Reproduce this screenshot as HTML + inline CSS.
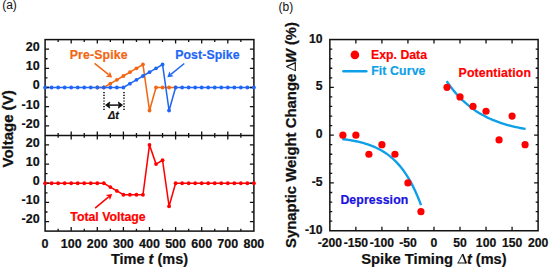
<!DOCTYPE html>
<html><head><meta charset="utf-8"><style>
html,body{margin:0;padding:0;background:#fff;}
body{width:550px;height:268px;overflow:hidden;position:relative;}
svg{position:absolute;left:0;top:0;font-family:"Liberation Sans",sans-serif;}
</style></head><body>
<svg width="550" height="268" viewBox="0 0 550 268">
<rect x="45.1" y="39.6" width="208.80" height="191.50" fill="none" stroke="#111" stroke-width="1.5"/>
<line x1="45.1" y1="135.4" x2="253.9" y2="135.4" stroke="#111" stroke-width="1.5"/>
<rect x="329.85" y="39.55" width="208.25" height="191.20" fill="none" stroke="#111" stroke-width="1.5"/>
<path d="M97.30 87.50L103.83 87.50L110.35 83.67L116.88 79.84L123.40 76.00L129.93 72.17L136.45 68.34L142.97 64.51L149.50 110.49L156.03 87.50L162.55 87.50L169.07 87.50L175.60 87.50" stroke="#F26713" stroke-width="1.55" fill="none" stroke-linejoin="miter"/>
<path d="M45.10 87.50L51.62 87.50L58.15 87.50L64.67 87.50L71.20 87.50L77.72 87.50L84.25 87.50L90.78 87.50L97.30 87.50L103.83 87.50L110.35 87.50L116.88 87.50L123.40 87.50L129.93 83.67L136.45 79.84L142.97 76.00L149.50 72.17L156.03 68.34L162.55 64.51L169.07 110.49L175.60 87.50L182.12 87.50L188.65 87.50L195.17 87.50L201.70 87.50L208.22 87.50L214.75 87.50L221.28 87.50L227.80 87.50L234.32 87.50L240.85 87.50L247.38 87.50L253.90 87.50" stroke="#1F66F5" stroke-width="1.55" fill="none" stroke-linejoin="miter"/>
<path d="M45.10 183.25L51.62 183.25L58.15 183.25L64.67 183.25L71.20 183.25L77.72 183.25L84.25 183.25L90.78 183.25L97.30 183.25L103.83 183.25L110.35 187.08L116.88 190.91L123.40 194.75L129.93 194.75L136.45 194.75L142.97 194.75L149.50 144.93L156.03 164.09L162.55 160.26L169.07 206.24L175.60 183.25L182.12 183.25L188.65 183.25L195.17 183.25L201.70 183.25L208.22 183.25L214.75 183.25L221.28 183.25L227.80 183.25L234.32 183.25L240.85 183.25L247.38 183.25L253.90 183.25" stroke="#FF0000" stroke-width="1.55" fill="none" stroke-linejoin="miter"/>
<path d="M58.15 39.60L58.15 42.00M58.15 135.40L58.15 133.00M58.15 135.40L58.15 137.80M58.15 231.10L58.15 228.70M71.20 39.60L71.20 43.60M71.20 135.40L71.20 131.40M71.20 135.40L71.20 139.40M71.20 231.10L71.20 227.10M84.25 39.60L84.25 42.00M84.25 135.40L84.25 133.00M84.25 135.40L84.25 137.80M84.25 231.10L84.25 228.70M97.30 39.60L97.30 43.60M97.30 135.40L97.30 131.40M97.30 135.40L97.30 139.40M97.30 231.10L97.30 227.10M110.35 39.60L110.35 42.00M110.35 135.40L110.35 133.00M110.35 135.40L110.35 137.80M110.35 231.10L110.35 228.70M123.40 39.60L123.40 43.60M123.40 135.40L123.40 131.40M123.40 135.40L123.40 139.40M123.40 231.10L123.40 227.10M136.45 39.60L136.45 42.00M136.45 135.40L136.45 133.00M136.45 135.40L136.45 137.80M136.45 231.10L136.45 228.70M149.50 39.60L149.50 43.60M149.50 135.40L149.50 131.40M149.50 135.40L149.50 139.40M149.50 231.10L149.50 227.10M162.55 39.60L162.55 42.00M162.55 135.40L162.55 133.00M162.55 135.40L162.55 137.80M162.55 231.10L162.55 228.70M175.60 39.60L175.60 43.60M175.60 135.40L175.60 131.40M175.60 135.40L175.60 139.40M175.60 231.10L175.60 227.10M188.65 39.60L188.65 42.00M188.65 135.40L188.65 133.00M188.65 135.40L188.65 137.80M188.65 231.10L188.65 228.70M201.70 39.60L201.70 43.60M201.70 135.40L201.70 131.40M201.70 135.40L201.70 139.40M201.70 231.10L201.70 227.10M214.75 39.60L214.75 42.00M214.75 135.40L214.75 133.00M214.75 135.40L214.75 137.80M214.75 231.10L214.75 228.70M227.80 39.60L227.80 43.60M227.80 135.40L227.80 131.40M227.80 135.40L227.80 139.40M227.80 231.10L227.80 227.10M240.85 39.60L240.85 42.00M240.85 135.40L240.85 133.00M240.85 135.40L240.85 137.80M240.85 231.10L240.85 228.70M45.10 125.82L49.10 125.82M253.90 125.82L249.90 125.82M45.10 221.57L49.10 221.57M253.90 221.57L249.90 221.57M45.10 116.24L47.50 116.24M253.90 116.24L251.50 116.24M45.10 211.99L47.50 211.99M253.90 211.99L251.50 211.99M45.10 106.66L49.10 106.66M253.90 106.66L249.90 106.66M45.10 202.41L49.10 202.41M253.90 202.41L249.90 202.41M45.10 97.08L47.50 97.08M253.90 97.08L251.50 97.08M45.10 192.83L47.50 192.83M253.90 192.83L251.50 192.83M45.10 87.50L49.10 87.50M253.90 87.50L249.90 87.50M45.10 183.25L49.10 183.25M253.90 183.25L249.90 183.25M45.10 77.92L47.50 77.92M253.90 77.92L251.50 77.92M45.10 173.67L47.50 173.67M253.90 173.67L251.50 173.67M45.10 68.34L49.10 68.34M253.90 68.34L249.90 68.34M45.10 164.09L49.10 164.09M253.90 164.09L249.90 164.09M45.10 58.76L47.50 58.76M253.90 58.76L251.50 58.76M45.10 154.51L47.50 154.51M253.90 154.51L251.50 154.51M45.10 49.18L49.10 49.18M253.90 49.18L249.90 49.18M45.10 144.93L49.10 144.93M253.90 144.93L249.90 144.93M355.88 39.55L355.88 43.55M355.88 230.75L355.88 226.75M381.91 39.55L381.91 43.55M381.91 230.75L381.91 226.75M407.94 39.55L407.94 43.55M407.94 230.75L407.94 226.75M433.98 39.55L433.98 43.55M433.98 230.75L433.98 226.75M460.01 39.55L460.01 43.55M460.01 230.75L460.01 226.75M486.04 39.55L486.04 43.55M486.04 230.75L486.04 226.75M512.07 39.55L512.07 43.55M512.07 230.75L512.07 226.75M329.85 221.19L332.25 221.19M538.10 221.19L535.70 221.19M329.85 211.63L332.25 211.63M538.10 211.63L535.70 211.63M329.85 202.07L332.25 202.07M538.10 202.07L535.70 202.07M329.85 192.51L332.25 192.51M538.10 192.51L535.70 192.51M329.85 182.95L333.85 182.95M538.10 182.95L534.10 182.95M329.85 173.39L332.25 173.39M538.10 173.39L535.70 173.39M329.85 163.83L332.25 163.83M538.10 163.83L535.70 163.83M329.85 154.27L332.25 154.27M538.10 154.27L535.70 154.27M329.85 144.71L332.25 144.71M538.10 144.71L535.70 144.71M329.85 135.15L333.85 135.15M538.10 135.15L534.10 135.15M329.85 125.59L332.25 125.59M538.10 125.59L535.70 125.59M329.85 116.03L332.25 116.03M538.10 116.03L535.70 116.03M329.85 106.47L332.25 106.47M538.10 106.47L535.70 106.47M329.85 96.91L332.25 96.91M538.10 96.91L535.70 96.91M329.85 87.35L333.85 87.35M538.10 87.35L534.10 87.35M329.85 77.79L332.25 77.79M538.10 77.79L535.70 77.79M329.85 68.23L332.25 68.23M538.10 68.23L535.70 68.23M329.85 58.67L332.25 58.67M538.10 58.67L535.70 58.67M329.85 49.11L332.25 49.11M538.10 49.11L535.70 49.11" stroke="#111" stroke-width="1.3" fill="none"/>
<circle cx="97.30" cy="87.50" r="1.9" fill="#F26713"/><circle cx="103.83" cy="87.50" r="1.9" fill="#F26713"/><circle cx="110.35" cy="83.67" r="1.9" fill="#F26713"/><circle cx="116.88" cy="79.84" r="1.9" fill="#F26713"/><circle cx="123.40" cy="76.00" r="1.9" fill="#F26713"/><circle cx="129.93" cy="72.17" r="1.9" fill="#F26713"/><circle cx="136.45" cy="68.34" r="1.9" fill="#F26713"/><circle cx="142.97" cy="64.51" r="1.9" fill="#F26713"/><circle cx="149.50" cy="110.49" r="1.9" fill="#F26713"/><circle cx="156.03" cy="87.50" r="1.9" fill="#F26713"/><circle cx="162.55" cy="87.50" r="1.9" fill="#F26713"/><circle cx="169.07" cy="87.50" r="1.9" fill="#F26713"/><circle cx="175.60" cy="87.50" r="1.9" fill="#F26713"/>
<circle cx="45.10" cy="87.50" r="1.9" fill="#1F66F5"/><circle cx="51.62" cy="87.50" r="1.9" fill="#1F66F5"/><circle cx="58.15" cy="87.50" r="1.9" fill="#1F66F5"/><circle cx="64.67" cy="87.50" r="1.9" fill="#1F66F5"/><circle cx="71.20" cy="87.50" r="1.9" fill="#1F66F5"/><circle cx="77.72" cy="87.50" r="1.9" fill="#1F66F5"/><circle cx="84.25" cy="87.50" r="1.9" fill="#1F66F5"/><circle cx="90.78" cy="87.50" r="1.9" fill="#1F66F5"/><circle cx="97.30" cy="87.50" r="1.9" fill="#1F66F5"/><circle cx="103.83" cy="87.50" r="1.9" fill="#1F66F5"/><circle cx="110.35" cy="87.50" r="1.9" fill="#1F66F5"/><circle cx="116.88" cy="87.50" r="1.9" fill="#1F66F5"/><circle cx="123.40" cy="87.50" r="1.9" fill="#1F66F5"/><circle cx="129.93" cy="83.67" r="1.9" fill="#1F66F5"/><circle cx="136.45" cy="79.84" r="1.9" fill="#1F66F5"/><circle cx="142.97" cy="76.00" r="1.9" fill="#1F66F5"/><circle cx="149.50" cy="72.17" r="1.9" fill="#1F66F5"/><circle cx="156.03" cy="68.34" r="1.9" fill="#1F66F5"/><circle cx="162.55" cy="64.51" r="1.9" fill="#1F66F5"/><circle cx="169.07" cy="110.49" r="1.9" fill="#1F66F5"/><circle cx="175.60" cy="87.50" r="1.9" fill="#1F66F5"/><circle cx="182.12" cy="87.50" r="1.9" fill="#1F66F5"/><circle cx="188.65" cy="87.50" r="1.9" fill="#1F66F5"/><circle cx="195.17" cy="87.50" r="1.9" fill="#1F66F5"/><circle cx="201.70" cy="87.50" r="1.9" fill="#1F66F5"/><circle cx="208.22" cy="87.50" r="1.9" fill="#1F66F5"/><circle cx="214.75" cy="87.50" r="1.9" fill="#1F66F5"/><circle cx="221.28" cy="87.50" r="1.9" fill="#1F66F5"/><circle cx="227.80" cy="87.50" r="1.9" fill="#1F66F5"/><circle cx="234.32" cy="87.50" r="1.9" fill="#1F66F5"/><circle cx="240.85" cy="87.50" r="1.9" fill="#1F66F5"/><circle cx="247.38" cy="87.50" r="1.9" fill="#1F66F5"/><circle cx="253.90" cy="87.50" r="1.9" fill="#1F66F5"/>
<circle cx="45.10" cy="183.25" r="1.9" fill="#FF0000"/><circle cx="51.62" cy="183.25" r="1.9" fill="#FF0000"/><circle cx="58.15" cy="183.25" r="1.9" fill="#FF0000"/><circle cx="64.67" cy="183.25" r="1.9" fill="#FF0000"/><circle cx="71.20" cy="183.25" r="1.9" fill="#FF0000"/><circle cx="77.72" cy="183.25" r="1.9" fill="#FF0000"/><circle cx="84.25" cy="183.25" r="1.9" fill="#FF0000"/><circle cx="90.78" cy="183.25" r="1.9" fill="#FF0000"/><circle cx="97.30" cy="183.25" r="1.9" fill="#FF0000"/><circle cx="103.83" cy="183.25" r="1.9" fill="#FF0000"/><circle cx="110.35" cy="187.08" r="1.9" fill="#FF0000"/><circle cx="116.88" cy="190.91" r="1.9" fill="#FF0000"/><circle cx="123.40" cy="194.75" r="1.9" fill="#FF0000"/><circle cx="129.93" cy="194.75" r="1.9" fill="#FF0000"/><circle cx="136.45" cy="194.75" r="1.9" fill="#FF0000"/><circle cx="142.97" cy="194.75" r="1.9" fill="#FF0000"/><circle cx="149.50" cy="144.93" r="1.9" fill="#FF0000"/><circle cx="156.03" cy="164.09" r="1.9" fill="#FF0000"/><circle cx="162.55" cy="160.26" r="1.9" fill="#FF0000"/><circle cx="169.07" cy="206.24" r="1.9" fill="#FF0000"/><circle cx="175.60" cy="183.25" r="1.9" fill="#FF0000"/><circle cx="182.12" cy="183.25" r="1.9" fill="#FF0000"/><circle cx="188.65" cy="183.25" r="1.9" fill="#FF0000"/><circle cx="195.17" cy="183.25" r="1.9" fill="#FF0000"/><circle cx="201.70" cy="183.25" r="1.9" fill="#FF0000"/><circle cx="208.22" cy="183.25" r="1.9" fill="#FF0000"/><circle cx="214.75" cy="183.25" r="1.9" fill="#FF0000"/><circle cx="221.28" cy="183.25" r="1.9" fill="#FF0000"/><circle cx="227.80" cy="183.25" r="1.9" fill="#FF0000"/><circle cx="234.32" cy="183.25" r="1.9" fill="#FF0000"/><circle cx="240.85" cy="183.25" r="1.9" fill="#FF0000"/><circle cx="247.38" cy="183.25" r="1.9" fill="#FF0000"/><circle cx="253.90" cy="183.25" r="1.9" fill="#FF0000"/>
<line x1="104.00" y1="92" x2="104.00" y2="110.5" stroke="#111" stroke-width="1.6" stroke-dasharray="1.2 1.6"/>
<line x1="124.00" y1="92" x2="124.00" y2="110.5" stroke="#111" stroke-width="1.6" stroke-dasharray="1.2 1.6"/>
<line x1="107.6" y1="105.1" x2="120.5" y2="105.1" stroke="#111" stroke-width="1.5"/>
<path d="M105.6 105.1L109.8 102.1L108.8 105.1L109.8 108.1Z M122.5 105.1L118.3 102.1L119.3 105.1L118.3 108.1Z" fill="#111" stroke="#111" stroke-width="0.9" stroke-linejoin="round"/>
<line x1="94.60" y1="63.30" x2="108.63" y2="74.70" stroke="#F26713" stroke-width="1.5"/>
<path d="M112.20 77.60L105.77 76.63L108.79 74.83L109.93 71.51Z" fill="#F26713"/>
<line x1="184.30" y1="63.50" x2="170.87" y2="74.40" stroke="#1F66F5" stroke-width="1.5"/>
<path d="M167.30 77.30L169.57 71.21L170.72 74.53L173.73 76.33Z" fill="#1F66F5"/>
<line x1="95.10" y1="208.10" x2="108.65" y2="196.93" stroke="#FF0000" stroke-width="1.5"/>
<path d="M112.20 194.00L109.98 200.11L108.81 196.80L105.78 195.02Z" fill="#FF0000"/>
<path d="M342.19 139.01L344.16 139.26L346.13 139.53L348.10 139.83L350.07 140.14L352.04 140.48L354.01 140.85L355.98 141.25L357.95 141.68L359.92 142.14L361.89 142.65L363.87 143.19L365.84 143.78L367.81 144.41L369.78 145.10L371.75 145.84L373.72 146.64L375.69 147.51L377.66 148.44L379.63 149.45L381.60 150.55L383.57 151.73L385.54 153.01L387.51 154.39L389.48 155.88L391.45 157.49L393.42 159.24L395.39 161.12L397.36 163.16L399.34 165.36L401.31 167.74L403.28 170.31L405.25 173.09L407.22 176.09L409.19 179.33L411.16 182.84L413.13 186.63L415.10 190.73L417.07 195.16L419.04 199.95L421.01 205.13" stroke="#0E9FE9" stroke-width="2.35" fill="none" stroke-linecap="butt"/>
<path d="M446.63 81.10L448.60 83.95L450.58 86.65L452.55 89.21L454.52 91.63L456.50 93.93L458.47 96.10L460.45 98.16L462.42 100.11L464.40 101.96L466.37 103.71L468.35 105.37L470.32 106.94L472.29 108.43L474.27 109.84L476.24 111.17L478.22 112.43L480.19 113.63L482.17 114.77L484.14 115.84L486.12 116.86L488.09 117.83L490.06 118.74L492.04 119.60L494.01 120.42L495.99 121.20L497.96 121.94L499.94 122.63L501.91 123.29L503.89 123.92L505.86 124.51L507.83 125.07L509.81 125.60L511.78 126.11L513.76 126.58L515.73 127.04L517.71 127.46L519.68 127.87L521.66 128.25L523.63 128.62L525.61 128.96" stroke="#0E9FE9" stroke-width="2.35" fill="none" stroke-linecap="butt"/>
<circle cx="342.87" cy="135.15" r="3.6" fill="#FF0000"/><circle cx="355.88" cy="135.15" r="3.6" fill="#FF0000"/><circle cx="368.90" cy="154.27" r="3.6" fill="#FF0000"/><circle cx="381.91" cy="144.71" r="3.6" fill="#FF0000"/><circle cx="394.93" cy="154.27" r="3.6" fill="#FF0000"/><circle cx="407.94" cy="182.95" r="3.6" fill="#FF0000"/><circle cx="420.96" cy="211.63" r="3.6" fill="#FF0000"/><circle cx="446.99" cy="87.35" r="3.6" fill="#FF0000"/><circle cx="460.01" cy="96.91" r="3.6" fill="#FF0000"/><circle cx="473.02" cy="106.47" r="3.6" fill="#FF0000"/><circle cx="486.04" cy="111.25" r="3.6" fill="#FF0000"/><circle cx="499.05" cy="139.93" r="3.6" fill="#FF0000"/><circle cx="512.07" cy="116.03" r="3.6" fill="#FF0000"/><circle cx="525.08" cy="144.71" r="3.6" fill="#FF0000"/>
<circle cx="354.9" cy="54.9" r="4.3" fill="#FF0000"/>
<line x1="343.5" y1="71.3" x2="366.3" y2="71.3" stroke="#0E9FE9" stroke-width="2.6" stroke-linecap="round"/>
<text x="39.60" y="51.08" font-size="12.5" fill="#111" stroke="#111" stroke-width="0.2" text-anchor="end" font-weight="bold" >20</text>
<text x="39.60" y="146.83" font-size="12.5" fill="#111" stroke="#111" stroke-width="0.2" text-anchor="end" font-weight="bold" >20</text>
<text x="39.60" y="70.24" font-size="12.5" fill="#111" stroke="#111" stroke-width="0.2" text-anchor="end" font-weight="bold" >10</text>
<text x="39.60" y="165.99" font-size="12.5" fill="#111" stroke="#111" stroke-width="0.2" text-anchor="end" font-weight="bold" >10</text>
<text x="39.60" y="89.40" font-size="12.5" fill="#111" stroke="#111" stroke-width="0.2" text-anchor="end" font-weight="bold" >0</text>
<text x="39.60" y="185.15" font-size="12.5" fill="#111" stroke="#111" stroke-width="0.2" text-anchor="end" font-weight="bold" >0</text>
<text x="39.60" y="108.56" font-size="12.5" fill="#111" stroke="#111" stroke-width="0.2" text-anchor="end" font-weight="bold" >-10</text>
<text x="39.60" y="204.31" font-size="12.5" fill="#111" stroke="#111" stroke-width="0.2" text-anchor="end" font-weight="bold" >-10</text>
<text x="39.60" y="127.72" font-size="12.5" fill="#111" stroke="#111" stroke-width="0.2" text-anchor="end" font-weight="bold" >-20</text>
<text x="39.60" y="223.47" font-size="12.5" fill="#111" stroke="#111" stroke-width="0.2" text-anchor="end" font-weight="bold" >-20</text>
<text x="45.10" y="247.80" font-size="12.5" fill="#111" stroke="#111" stroke-width="0.2" text-anchor="middle" font-weight="bold" >0</text>
<text x="71.20" y="247.80" font-size="12.5" fill="#111" stroke="#111" stroke-width="0.2" text-anchor="middle" font-weight="bold" >100</text>
<text x="97.30" y="247.80" font-size="12.5" fill="#111" stroke="#111" stroke-width="0.2" text-anchor="middle" font-weight="bold" >200</text>
<text x="123.40" y="247.80" font-size="12.5" fill="#111" stroke="#111" stroke-width="0.2" text-anchor="middle" font-weight="bold" >300</text>
<text x="149.50" y="247.80" font-size="12.5" fill="#111" stroke="#111" stroke-width="0.2" text-anchor="middle" font-weight="bold" >400</text>
<text x="175.60" y="247.80" font-size="12.5" fill="#111" stroke="#111" stroke-width="0.2" text-anchor="middle" font-weight="bold" >500</text>
<text x="201.70" y="247.80" font-size="12.5" fill="#111" stroke="#111" stroke-width="0.2" text-anchor="middle" font-weight="bold" >600</text>
<text x="227.80" y="247.80" font-size="12.5" fill="#111" stroke="#111" stroke-width="0.2" text-anchor="middle" font-weight="bold" >700</text>
<text x="253.90" y="247.80" font-size="12.5" fill="#111" stroke="#111" stroke-width="0.2" text-anchor="middle" font-weight="bold" >800</text>
<text x="322.60" y="42.55" font-size="12.2" fill="#111" stroke="#111" stroke-width="0.2" text-anchor="end" font-weight="bold" >10</text>
<text x="322.60" y="90.35" font-size="12.2" fill="#111" stroke="#111" stroke-width="0.2" text-anchor="end" font-weight="bold" >5</text>
<text x="322.60" y="138.15" font-size="12.2" fill="#111" stroke="#111" stroke-width="0.2" text-anchor="end" font-weight="bold" >0</text>
<text x="322.60" y="185.95" font-size="12.2" fill="#111" stroke="#111" stroke-width="0.2" text-anchor="end" font-weight="bold" >-5</text>
<text x="322.60" y="233.75" font-size="12.2" fill="#111" stroke="#111" stroke-width="0.2" text-anchor="end" font-weight="bold" >-10</text>
<text x="329.85" y="247.00" font-size="12.2" fill="#111" stroke="#111" stroke-width="0.2" text-anchor="middle" font-weight="bold" >-200</text>
<text x="355.88" y="247.00" font-size="12.2" fill="#111" stroke="#111" stroke-width="0.2" text-anchor="middle" font-weight="bold" >-150</text>
<text x="381.91" y="247.00" font-size="12.2" fill="#111" stroke="#111" stroke-width="0.2" text-anchor="middle" font-weight="bold" >-100</text>
<text x="407.94" y="247.00" font-size="12.2" fill="#111" stroke="#111" stroke-width="0.2" text-anchor="middle" font-weight="bold" >-50</text>
<text x="433.98" y="247.00" font-size="12.2" fill="#111" stroke="#111" stroke-width="0.2" text-anchor="middle" font-weight="bold" >0</text>
<text x="460.01" y="247.00" font-size="12.2" fill="#111" stroke="#111" stroke-width="0.2" text-anchor="middle" font-weight="bold" >50</text>
<text x="486.04" y="247.00" font-size="12.2" fill="#111" stroke="#111" stroke-width="0.2" text-anchor="middle" font-weight="bold" >100</text>
<text x="512.07" y="247.00" font-size="12.2" fill="#111" stroke="#111" stroke-width="0.2" text-anchor="middle" font-weight="bold" >150</text>
<text x="538.10" y="247.00" font-size="12.2" fill="#111" stroke="#111" stroke-width="0.2" text-anchor="middle" font-weight="bold" >200</text>
<text x="149.50" y="263.70" font-size="14.5" fill="#111" stroke="#111" stroke-width="0.2" text-anchor="middle" font-weight="bold" >Time <tspan font-style="italic">t</tspan> (ms)</text>
<text x="361.20" y="263.70" font-size="14.8" fill="#111" stroke="#111" stroke-width="0.2" text-anchor="start" font-weight="bold" >Spike Timing</text>
<text x="506.50" y="263.70" font-size="14.5" fill="#111" stroke="#111" stroke-width="0.2" text-anchor="end" font-weight="bold" ><tspan font-style="italic">t</tspan> (ms)</text>
<path d="M462.6 254.1L457.9 263.2" stroke="#111" stroke-width="0.9" fill="none"/>
<path d="M462.6 254.1L466.1 263.2" stroke="#111" stroke-width="1.7" fill="none"/>
<path d="M457.6 263.0H466.5" stroke="#111" stroke-width="1.0" fill="none"/>
<text transform="translate(12.6 128.9) rotate(-90)" font-size="15" stroke="#111" stroke-width="0.3" font-weight="bold" text-anchor="middle" fill="#111">Voltage (V)</text>
<text transform="translate(296.0 248.0) rotate(-90)" font-size="14.9" stroke="#111" stroke-width="0.25" font-weight="bold" text-anchor="start" fill="#111">Synaptic Weight Change</text>
<text transform="translate(296.0 22.2) rotate(-90)" font-size="14.7" stroke="#111" stroke-width="0.25" font-weight="bold" text-anchor="end" fill="#111"><tspan font-style="italic">W</tspan> (%)</text>
<path d="M286.4 66.65L295.6 62.6" stroke="#111" stroke-width="1.5" fill="none"/>
<path d="M286.4 66.65L295.6 70.7" stroke="#111" stroke-width="0.9" fill="none"/>
<path d="M295.3 62.2V71.1" stroke="#111" stroke-width="1.1" fill="none"/>
<text x="69.80" y="59.30" font-size="12.3" fill="#F26713" stroke="#F26713" stroke-width="0.2" text-anchor="start" font-weight="bold" letter-spacing="0.12">Pre-Spike</text>
<text x="175.20" y="58.90" font-size="12.3" fill="#1F66F5" stroke="#1F66F5" stroke-width="0.2" text-anchor="start" font-weight="bold" letter-spacing="0.1">Post-Spike</text>
<text x="70.30" y="220.50" font-size="12.3" fill="#FF0000" stroke="#FF0000" stroke-width="0.2" text-anchor="start" font-weight="bold" >Total Voltage</text>
<text x="108.00" y="118.60" font-size="10.8" fill="#111" stroke="#111" stroke-width="0.2" text-anchor="start" font-weight="bold" ><tspan font-style="italic">&#916;t</tspan></text>
<text x="371.00" y="58.80" font-size="12.3" fill="#FF0000" stroke="#FF0000" stroke-width="0.2" text-anchor="start" font-weight="bold" >Exp. Data</text>
<text x="371.20" y="75.10" font-size="12.3" fill="#0E9FE9" stroke="#0E9FE9" stroke-width="0.2" text-anchor="start" font-weight="bold" letter-spacing="0.12">Fit Curve</text>
<text x="458.60" y="76.60" font-size="12.3" fill="#FF0000" stroke="#FF0000" stroke-width="0.2" text-anchor="start" font-weight="bold" letter-spacing="0.12">Potentiation</text>
<text x="340.40" y="204.00" font-size="12.3" fill="#1A12E0" stroke="#1A12E0" stroke-width="0.2" text-anchor="start" font-weight="bold" letter-spacing="0.1">Depression</text>
<text x="2.20" y="8.90" font-size="12" fill="#111" stroke="none" stroke-width="0.2" text-anchor="start" font-weight="normal" >(a)</text>
<text x="278.50" y="10.70" font-size="12" fill="#111" stroke="none" stroke-width="0.2" text-anchor="start" font-weight="normal" >(b)</text>
</svg></body></html>
